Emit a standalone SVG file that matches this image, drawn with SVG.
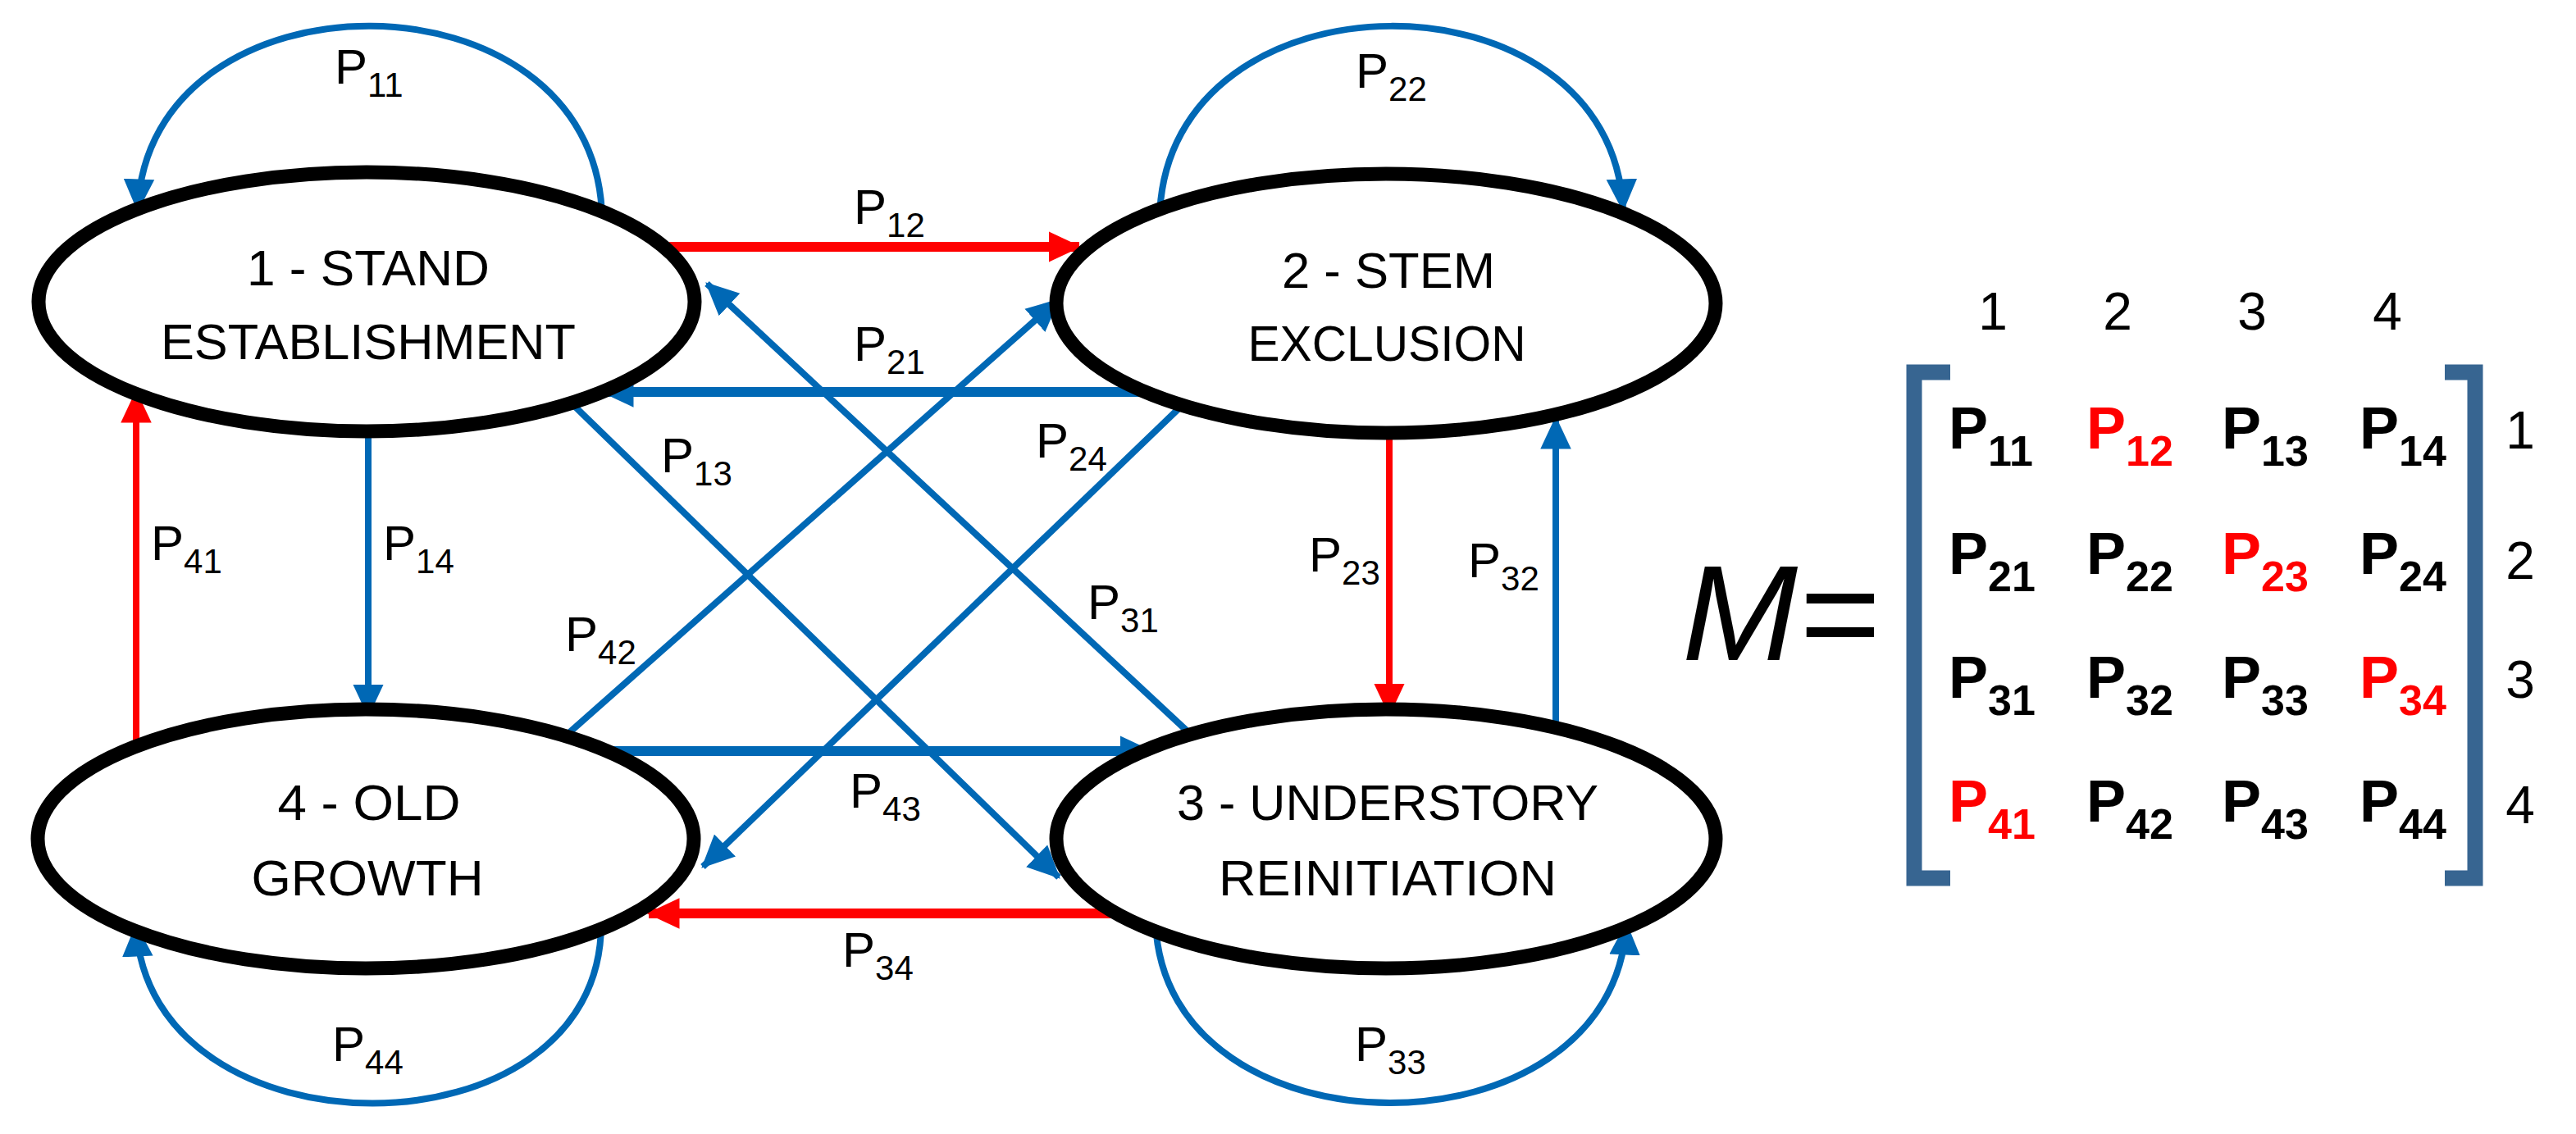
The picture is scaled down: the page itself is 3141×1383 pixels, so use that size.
<svg xmlns="http://www.w3.org/2000/svg" width="3141" height="1383" viewBox="0 0 3141 1383">
<style>
.node{fill:#fff;stroke:#000;stroke-width:17}
.nt{font-family:"Liberation Sans",Arial,sans-serif;font-size:62px;text-anchor:middle;fill:#000}
.b{fill:none;stroke:#0068b5;stroke-width:8}
.bt{fill:none;stroke:#0068b5;stroke-width:12}
.r{fill:none;stroke:#ff0000;stroke-width:8}
.rt{fill:none;stroke:#ff0000;stroke-width:12}
.lab{font-family:"Liberation Sans",Arial,sans-serif;font-size:60px;fill:#000}
.sub{font-size:42px}
.mx{font-family:"Liberation Sans",Arial,sans-serif;font-size:72px;font-weight:bold;fill:#000}
.ms{font-size:52px}
.red{fill:#ff0000}
.hd{font-family:"Liberation Sans",Arial,sans-serif;font-size:64px;fill:#000;text-anchor:middle}
.br{fill:none;stroke:#376591;stroke-width:19}
</style>
<defs>
<marker id="ab" markerUnits="userSpaceOnUse" markerWidth="40" markerHeight="40" viewBox="0 0 32 30" refX="30" refY="15" orient="auto"><path d="M0,0 L32,15 L0,30 Z" fill="#0068b5"/></marker>
<marker id="ar" markerUnits="userSpaceOnUse" markerWidth="40" markerHeight="40" viewBox="0 0 32 30" refX="30" refY="15" orient="auto"><path d="M0,0 L32,15 L0,30 Z" fill="#ff0000"/></marker>
</defs>
<g id="connectors">
<path class="b" d="M734,262 C724,-44 180,-44 168,256" marker-end="url(#ab)"/>
<path class="b" d="M1414,263 C1424,-44 1966,-44 1979,256" marker-end="url(#ab)"/>
<path class="b" d="M733,1127 C733,1418 180,1418 166,1129" marker-end="url(#ab)"/>
<path class="b" d="M1409,1125 C1420,1418 1968,1418 1983,1127" marker-end="url(#ab)"/>
<path class="rt" d="M816,301 L1316,301" marker-end="url(#ar)"/>
<path class="bt" d="M1408,478 L735,478" marker-end="url(#ab)"/>
<path class="b" d="M694,489 L1291,1070" marker-end="url(#ab)"/>
<path class="b" d="M1448,892 L862,346" marker-end="url(#ab)"/>
<path class="b" d="M1449,487 L857,1057" marker-end="url(#ab)"/>
<path class="b" d="M689,898 L1290,366" marker-end="url(#ab)"/>
<path class="bt" d="M727,916 L1403,916" marker-end="url(#ab)"/>
<path class="rt" d="M1365,1114 L791,1114" marker-end="url(#ar)"/>
<path class="b" d="M449,522 L449,872" marker-end="url(#ab)"/>
<path class="r" d="M166,916 L166,478" marker-end="url(#ar)"/>
<path class="r" d="M1694,520 L1694,871" marker-end="url(#ar)"/>
<path class="b" d="M1897,883 L1897,510" marker-end="url(#ab)"/>
</g>
<g id="n1"><ellipse class="node" cx="447" cy="368" rx="400" ry="158"/>
<text class="nt" x="449" y="348" textLength="296" lengthAdjust="spacingAndGlyphs">1 - STAND</text><text class="nt" x="449" y="438" textLength="506" lengthAdjust="spacingAndGlyphs">ESTABLISHMENT</text></g>
<g id="n2"><ellipse class="node" cx="1690" cy="370" rx="402" ry="158"/>
<text class="nt" x="1693" y="351" textLength="260" lengthAdjust="spacingAndGlyphs">2 - STEM</text><text class="nt" x="1691" y="440" textLength="339" lengthAdjust="spacingAndGlyphs">EXCLUSION</text></g>
<g id="n4"><ellipse class="node" cx="446" cy="1023" rx="400" ry="158"/>
<text class="nt" x="450" y="1000" textLength="223" lengthAdjust="spacingAndGlyphs">4 - OLD</text><text class="nt" x="448" y="1092" textLength="283" lengthAdjust="spacingAndGlyphs">GROWTH</text></g>
<g id="n3"><ellipse class="node" cx="1690" cy="1023" rx="402" ry="158"/>
<text class="nt" x="1692" y="1000" textLength="514" lengthAdjust="spacingAndGlyphs">3 - UNDERSTORY</text><text class="nt" x="1692" y="1092" textLength="412" lengthAdjust="spacingAndGlyphs">REINITIATION</text></g>
<g id="labels">
<text class="lab" x="408" y="102">P<tspan class="sub" dy="16">11</tspan></text>
<text class="lab" x="1653" y="107">P<tspan class="sub" dy="16">22</tspan></text>
<text class="lab" x="1041" y="273">P<tspan class="sub" dy="16">12</tspan></text>
<text class="lab" x="1041" y="440">P<tspan class="sub" dy="16">21</tspan></text>
<text class="lab" x="806" y="576">P<tspan class="sub" dy="16">13</tspan></text>
<text class="lab" x="1263" y="558">P<tspan class="sub" dy="16">24</tspan></text>
<text class="lab" x="467" y="683">P<tspan class="sub" dy="16">14</tspan></text>
<text class="lab" x="184" y="683">P<tspan class="sub" dy="16">41</tspan></text>
<text class="lab" x="689" y="794">P<tspan class="sub" dy="16">42</tspan></text>
<text class="lab" x="1326" y="755">P<tspan class="sub" dy="16">31</tspan></text>
<text class="lab" x="1596" y="697">P<tspan class="sub" dy="16">23</tspan></text>
<text class="lab" x="1790" y="704">P<tspan class="sub" dy="16">32</tspan></text>
<text class="lab" x="1036" y="985">P<tspan class="sub" dy="16">43</tspan></text>
<text class="lab" x="1027" y="1179">P<tspan class="sub" dy="16">34</tspan></text>
<text class="lab" x="405" y="1294">P<tspan class="sub" dy="16">44</tspan></text>
<text class="lab" x="1652" y="1294">P<tspan class="sub" dy="16">33</tspan></text>
</g>
<g id="matrix">
<text x="2051" y="805" font-family="Liberation Sans,Arial,sans-serif" font-style="italic" font-size="165" textLength="240" lengthAdjust="spacingAndGlyphs">M=</text>
<path class="br" d="M2378,454 L2334,454 L2334,1071 L2378,1071"/>
<path class="br" d="M2981,454 L3018,454 L3018,1071 L2981,1071"/>
<text class="hd" x="2430" y="402">1</text><text class="hd" x="2582" y="402">2</text><text class="hd" x="2746" y="402">3</text><text class="hd" x="2911" y="402">4</text>
<text class="hd" x="3073" y="547">1</text><text class="hd" x="3073" y="706">2</text><text class="hd" x="3073" y="851">3</text><text class="hd" x="3073" y="1004">4</text>
<text class="mx" x="2376" y="547">P<tspan class="ms" dy="21">11</tspan></text>
<text class="mx red" x="2544" y="547">P<tspan class="ms" dy="21">12</tspan></text>
<text class="mx" x="2709" y="547">P<tspan class="ms" dy="21">13</tspan></text>
<text class="mx" x="2877" y="547">P<tspan class="ms" dy="21">14</tspan></text>
<text class="mx" x="2376" y="700">P<tspan class="ms" dy="21">21</tspan></text>
<text class="mx" x="2544" y="700">P<tspan class="ms" dy="21">22</tspan></text>
<text class="mx red" x="2709" y="700">P<tspan class="ms" dy="21">23</tspan></text>
<text class="mx" x="2877" y="700">P<tspan class="ms" dy="21">24</tspan></text>
<text class="mx" x="2376" y="851">P<tspan class="ms" dy="21">31</tspan></text>
<text class="mx" x="2544" y="851">P<tspan class="ms" dy="21">32</tspan></text>
<text class="mx" x="2709" y="851">P<tspan class="ms" dy="21">33</tspan></text>
<text class="mx red" x="2877" y="851">P<tspan class="ms" dy="21">34</tspan></text>
<text class="mx red" x="2376" y="1002">P<tspan class="ms" dy="21">41</tspan></text>
<text class="mx" x="2544" y="1002">P<tspan class="ms" dy="21">42</tspan></text>
<text class="mx" x="2709" y="1002">P<tspan class="ms" dy="21">43</tspan></text>
<text class="mx" x="2877" y="1002">P<tspan class="ms" dy="21">44</tspan></text>
</g>
</svg>
